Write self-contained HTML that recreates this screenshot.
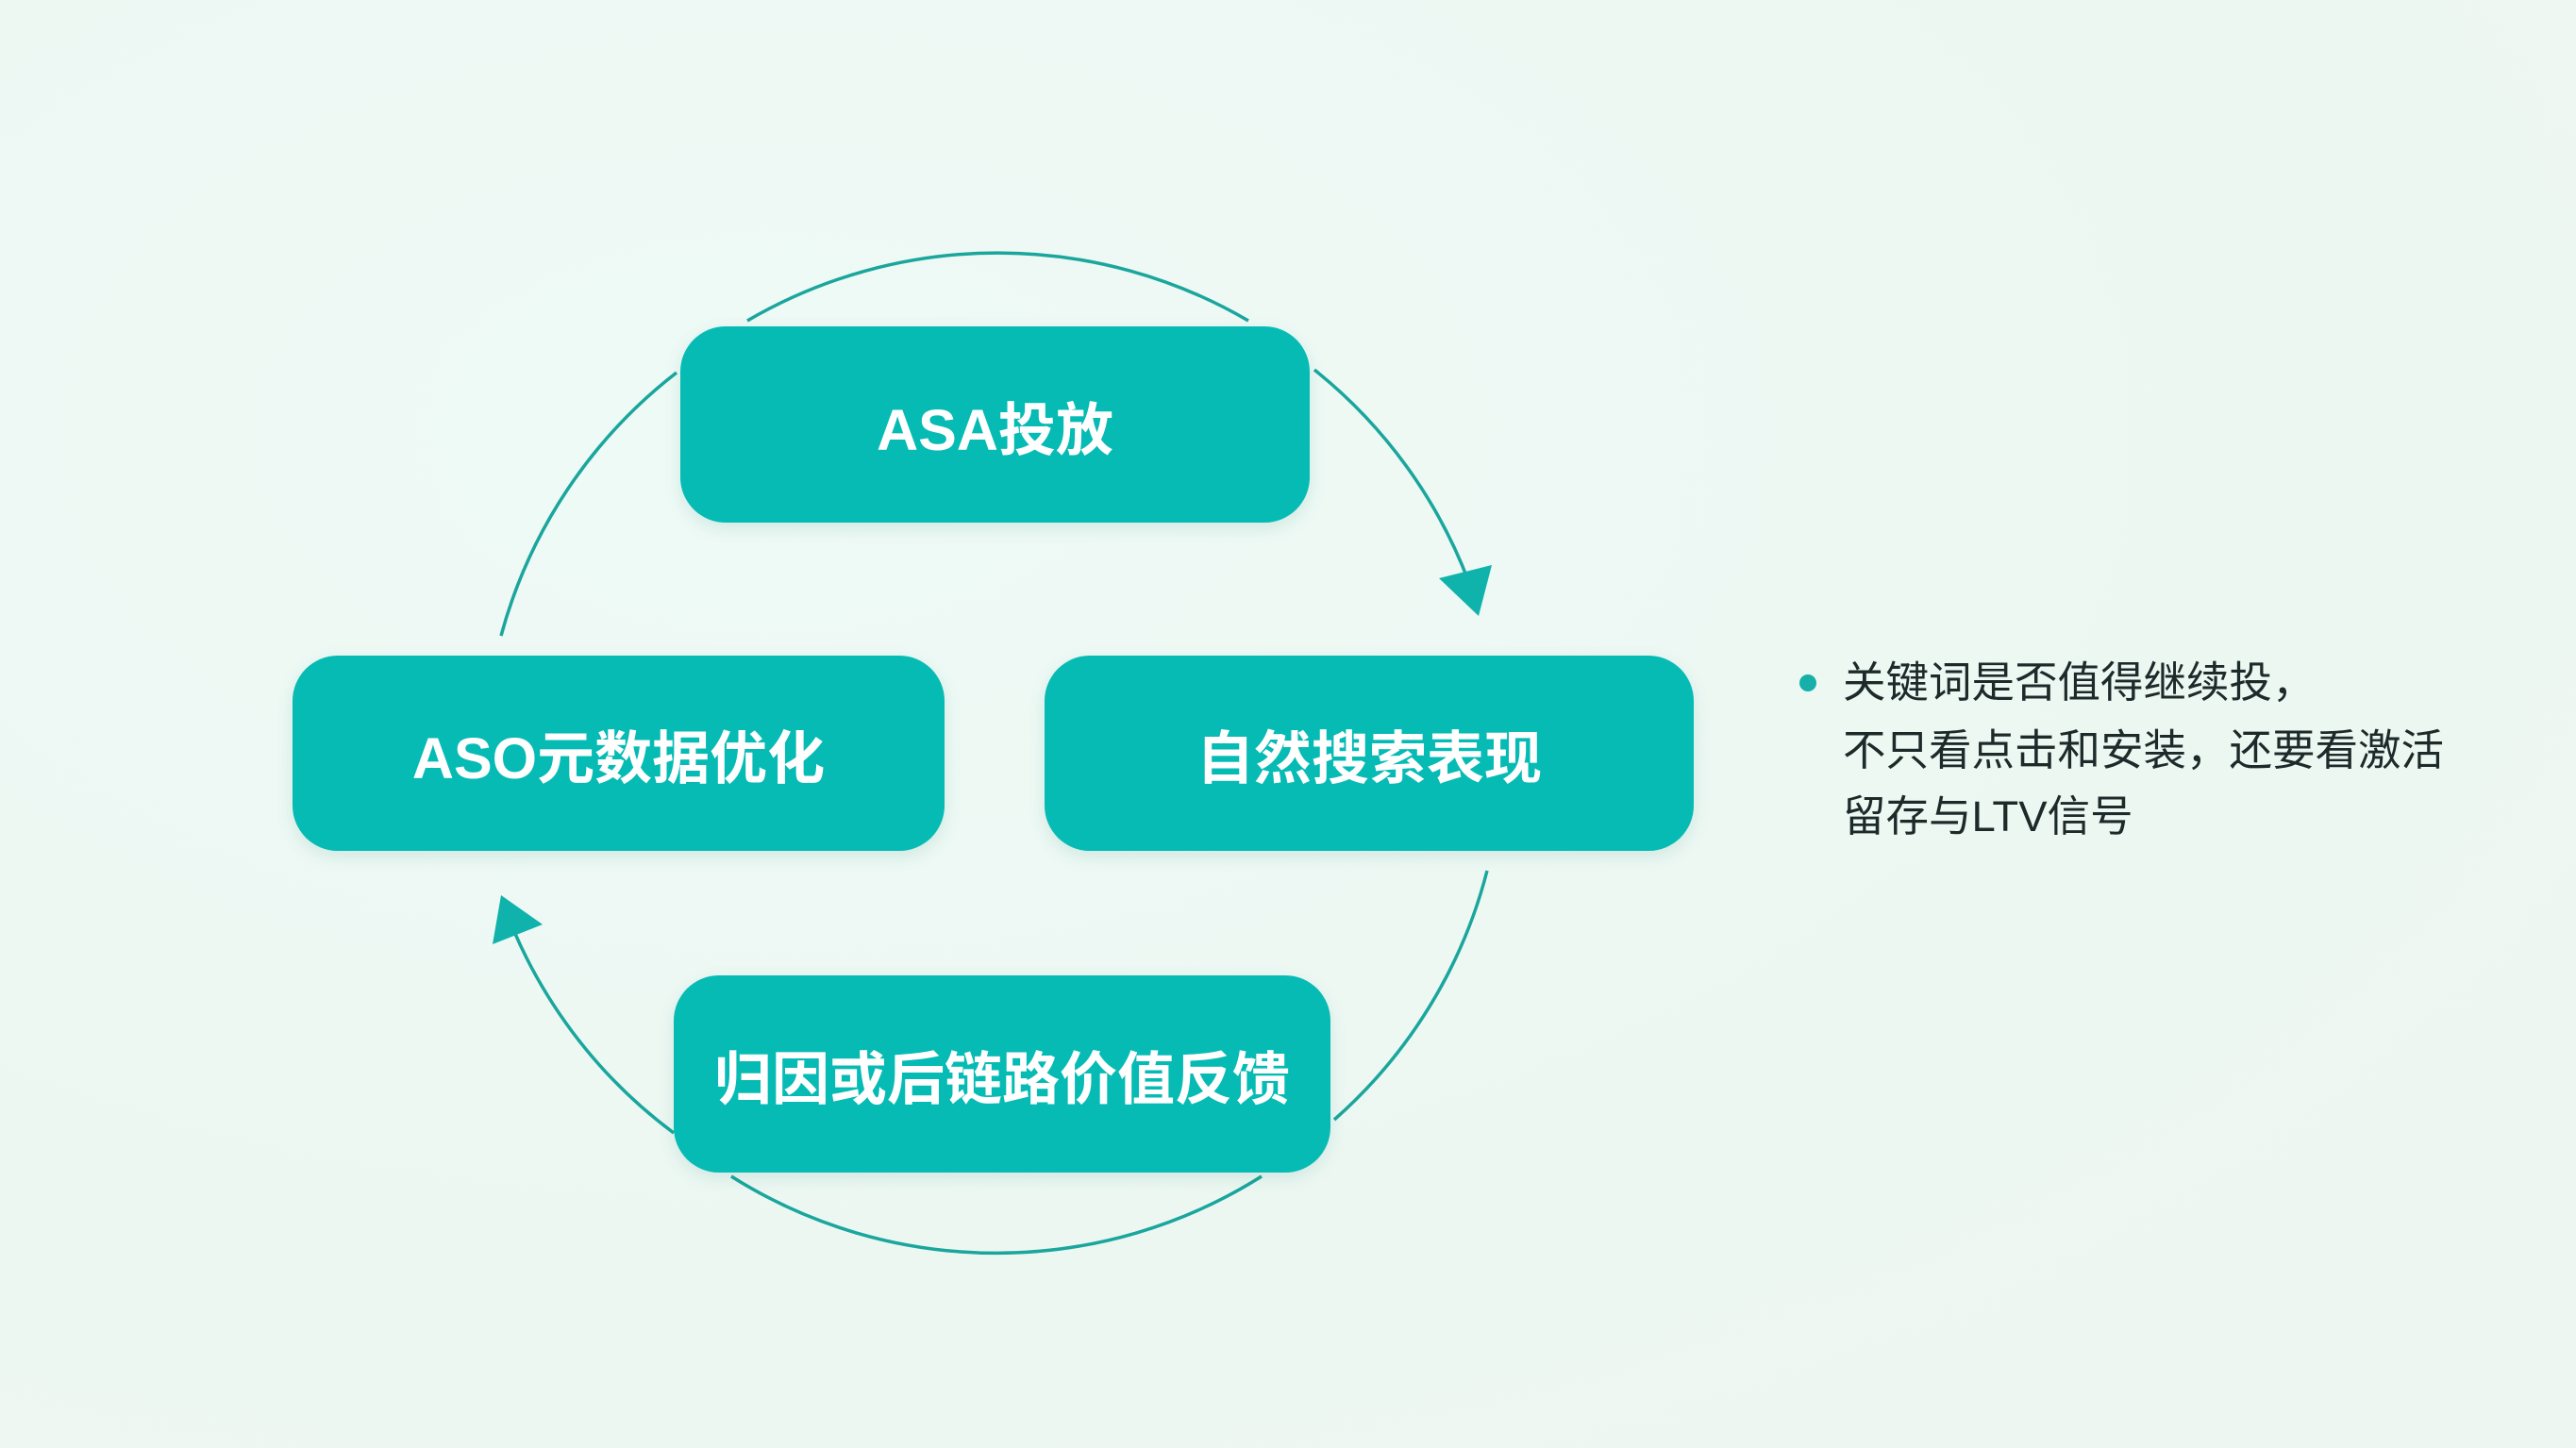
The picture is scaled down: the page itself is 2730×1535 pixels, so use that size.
<!DOCTYPE html>
<html><head><meta charset="utf-8"><style>
html,body{margin:0;padding:0}
body{width:2730px;height:1535px;position:relative;overflow:hidden;background:radial-gradient(ellipse at 30% 30%,#eefaf6 0%,#edf7f2 60%,#eef6f1 100%);font-family:"Liberation Sans","Noto Sans CJK SC",sans-serif}
.box{position:absolute;background:#07bbb5;border-radius:48px;color:#fff;font-weight:bold;font-size:61px;display:flex;align-items:center;justify-content:center;box-shadow:0 6px 18px rgba(0,120,110,0.12)}
.t{position:absolute;left:1953px;font-size:45.5px;color:#1d2a2a;line-height:72px}
</style></head><body>
<svg width="2730" height="1535" style="position:absolute;left:0;top:0">
<g fill="none" stroke="#1aa69d" stroke-width="3.5">
<path d="M792 340 A526 526 0 0 1 1323 340"/>
<path d="M1393 392 A526 526 0 0 1 1557 618"/>
<path d="M1576 923 A526 526 0 0 1 1414 1187"/>
<path d="M1337 1247 A526 526 0 0 1 775 1247"/>
<path d="M714 1201 A526 526 0 0 1 534 960"/>
<path d="M531 674 A526 526 0 0 1 717 395"/>
</g>
<polygon points="1525,613 1581,599 1567,653" fill="#0fb3ac"/>
<polygon points="531,949 522,1001 575,980" fill="#0fb3ac"/>
<circle cx="1916" cy="724" r="9" fill="#16b0a8"/>
</svg>
<div class="box" style="left:721px;top:346px;width:667px;height:208px">ASA投放</div>
<div class="box" style="left:310px;top:695px;width:691px;height:207px">ASO元数据优化</div>
<div class="box" style="left:1107px;top:695px;width:688px;height:207px">自然搜索表现</div>
<div class="box" style="left:714px;top:1034px;width:696px;height:209px">归因或后链路价值反馈</div>
<div class="t" style="top:688px">关键词是否值得继续投，</div>
<div class="t" style="top:760px">不只看点击和安装，还要看激活</div>
<div class="t" style="top:830px">留存与LTV信号</div>
</body></html>
